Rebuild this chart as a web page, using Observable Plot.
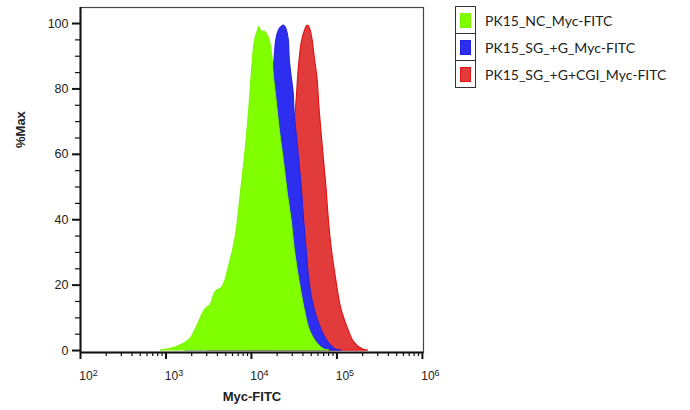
<!DOCTYPE html>
<html><head><meta charset="utf-8">
<script src="https://cdn.jsdelivr.net/npm/d3@7"></script>
<script src="https://cdn.jsdelivr.net/npm/@observablehq/plot@0.6"></script>
<style>
body{margin:0;background:#fff;}
#wrap{position:relative;width:690px;height:410px;}
#legend{position:absolute;left:455px;top:7px;font-family:Lato,"Open Sans",sans-serif;font-size:14px;color:#222;}
.row{display:flex;align-items:center;height:27px;}
.sw{width:21px;height:28px;border:1px solid #333;box-sizing:border-box;display:flex;align-items:center;justify-content:center;margin-top:-1px;background:#fff;}
.sw span{width:11px;height:15px;display:block;box-sizing:border-box;}
.lab{margin-left:9px;}
</style>
</head><body>
<div id="wrap"><div id="legend"></div></div>
<script>
// Series names (legend order)
const seriesNames = ["PK15_NC_Myc-FITC", "PK15_SG_+G_Myc-FITC", "PK15_SG_+G+CGI_Myc-FITC"];
const seriesFill = ["#80ff00", "#2e2ef0", "#e23b3b"];
const seriesStroke = ["#7af500", "#2020e0", "#e01515"];

// Histogram outlines: Myc-FITC intensity vs %Max
const greenX = [875,1306,1897,2227,2906,3322,3796,4573,5516,6474,7200,7800,8450,9400,10180,11040,11960,12280,13300,14420,16040,17380,18330,19860,21530,23940,26620,29630,32070,36640,41880,47860,57680,71420,81600];
const greenY = [0,1,3.4,6.5,12.7,13.9,17.9,19.4,26.2,34,43.5,51.9,60,73.5,85.8,95,98,99,97.5,97.5,95.5,91,83.6,75.6,67,58,48,39.5,31,21,12.7,6.5,2.5,0.3,0];

const blueX = [1707,2684,4010,5970,8910,11640,14030,16470,18830,19860,21530,23940,25250,27350,28070,29630,31260,32070,35700,38710,40840,44200,47860,54700,65920,79430,98320,112500];
const blueY = [0,3,8,16,26,38,50,62,91,96,98.5,99.4,98.8,95,89,83.6,78.7,72.5,60,50,41.7,31,21,12.7,6.5,2.5,0.3,0];

const redX = [3070,4573,7800,11640,16470,22680,28070,32960,35700,38710,41880,45380,47860,51850,54700,59300,62540,69530,75340,79430,86090,98320,112500,135500,159100,202400,231200];
const redY = [0,2,8,18,30,45,60,73,85.8,94,97.5,99.4,98.8,95,90,83,74,60,50,41.7,32,21.5,12.7,6.5,2.5,0.3,0];

// Axis ticks
const yMajor = [0, 20, 40, 60, 80, 100];
const yMinor = [5,10,15,25,30,35,45,50,55,65,70,75,85,90,95];
const xMajor = [1e2, 1e3, 1e4, 1e5, 1e6];
const xMinor = [];
for (const k of [2,3,4,5]) for (const m of [2,3,4,5,6,7,8,9]) xMinor.push(m * Math.pow(10, k));

const table = (xs, ys) => xs.map((x, i) => ({x, y: ys[i]}));
const green = table(greenX, greenY);
const blue = table(blueX, blueY);
const red = table(redX, redY);

const xDom = [100, 1.03e6];
const yDom = [-0.6, 104.9];

const svg = Plot.plot({
  width: 690,
  height: 410,
  marginLeft: 80,
  marginRight: 267,
  marginTop: 7,
  marginBottom: 58,
  style: {fontFamily: "'Liberation Sans', Arial, sans-serif", fontSize: "12px", color: "#222", background: "#fff"},
  x: {type: "log", domain: xDom},
  y: {domain: yDom},
  marks: [
    Plot.areaY(red, {x: "x", y: "y", fill: seriesFill[2], stroke: seriesStroke[2], strokeWidth: 1.2, curve: "catmull-rom"}),
    Plot.areaY(blue, {x: "x", y: "y", fill: seriesFill[1], stroke: seriesStroke[1], strokeWidth: 1, curve: "catmull-rom"}),
    Plot.areaY(green, {x: "x", y: "y", fill: seriesFill[0], stroke: seriesStroke[0], strokeWidth: 1, curve: "catmull-rom"}),
    Plot.frame({stroke: "#444", strokeWidth: 1.2}),
    Plot.ruleX([xDom[0]], {stroke: "#111", strokeWidth: 2}),
    Plot.ruleY([yDom[0]], {stroke: "#111", strokeWidth: 2}),
    Plot.axisY({ticks: yMajor, tickSize: 8, tickPadding: 4, tickFormat: d => String(d), label: null, stroke: "#111", strokeWidth: 2, fontSize: 12.5}),
    Plot.axisY({ticks: yMinor, tickSize: 5, tickFormat: () => "", label: null, stroke: "#111", strokeWidth: 1.2}),
    Plot.axisX({ticks: xMajor, tickSize: 7, tickPadding: 12, tickFormat: d => String(Math.round(Math.log10(d))), label: null, stroke: "#111", strokeWidth: 2, fontSize: 12}),
    Plot.axisX({ticks: xMinor, tickSize: 4, tickFormat: () => "", label: null, stroke: "#111", strokeWidth: 1.2}),
    Plot.text(["Myc-FITC"], {frameAnchor: "bottom", dy: 48, fontWeight: "bold", fontSize: 13}),
    Plot.text(["%Max"], {frameAnchor: "left", dx: -60, dy: -32, rotate: -90, fontWeight: "bold", fontSize: 13})
  ]
});

// superscript exponents on x tick labels
d3.select(svg).selectAll('g[aria-label="x-axis tick label"] text').each(function() {
  const e = this.textContent;
  if (!e) return;
  const t = d3.select(this);
  t.text("");
  t.attr("text-anchor", "middle").attr("dx", 8);
  t.append("tspan").text("10");
  t.append("tspan").attr("dy", "-0.45em").attr("font-size", 9).text(e);
});

document.getElementById("wrap").prepend(svg);

const legend = d3.select("#legend");
seriesNames.forEach((name, i) => {
  const row = legend.append("div").attr("class", "row");
  row.append("div").attr("class", "sw").append("span")
    .style("background", seriesFill[i]).style("border", "1px solid " + seriesStroke[i]);
  row.append("div").attr("class", "lab").text(name);
});
</script>
</body></html>
